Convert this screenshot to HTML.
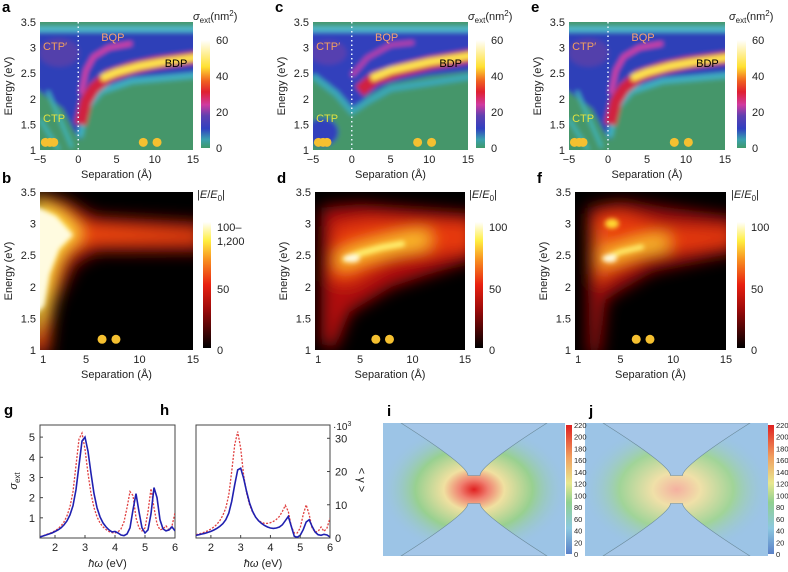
<!DOCTYPE html>
<html><head><meta charset="utf-8">
<style>
html,body{margin:0;padding:0;background:#fff;}
svg{display:block;font-family:"Liberation Sans",sans-serif;}
</style></head>
<body>
<svg id="fig" width="788" height="572" viewBox="0 0 788 572" xmlns="http://www.w3.org/2000/svg">
<defs>
<linearGradient id="cbTop" x1="0" y1="1" x2="0" y2="0">
<stop offset="0" stop-color="#3f9a6a"/><stop offset="0.08" stop-color="#3aa0b0"/><stop offset="0.18" stop-color="#3040c0"/><stop offset="0.3" stop-color="#6040b0"/><stop offset="0.4" stop-color="#d03aa0"/><stop offset="0.52" stop-color="#e02030"/><stop offset="0.62" stop-color="#f06020"/><stop offset="0.75" stop-color="#ffe030"/><stop offset="1" stop-color="#ffffff"/>
</linearGradient>
<linearGradient id="cbBot" x1="0" y1="1" x2="0" y2="0">
<stop offset="0" stop-color="#000"/><stop offset="0.3" stop-color="#9a0a0a"/><stop offset="0.5" stop-color="#e82010"/><stop offset="0.7" stop-color="#f89020"/><stop offset="0.85" stop-color="#ffee40"/><stop offset="1" stop-color="#fff"/>
</linearGradient>
<linearGradient id="cbJet" x1="0" y1="1" x2="0" y2="0">
<stop offset="0" stop-color="#5a80c8"/><stop offset="0.2" stop-color="#8cc8e0"/><stop offset="0.4" stop-color="#90d090"/><stop offset="0.55" stop-color="#e8e890"/><stop offset="0.75" stop-color="#f0a060"/><stop offset="1" stop-color="#e02020"/>
</linearGradient>
<radialGradient id="fieldI" cx="0.5" cy="0.5" r="0.5">
<stop offset="0" stop-color="#e02020"/><stop offset="0.15" stop-color="#f08070"/><stop offset="0.32" stop-color="#f0e0a0"/><stop offset="0.62" stop-color="#98d090"/><stop offset="1" stop-color="#9cc4e6" stop-opacity="0"/>
</radialGradient>
<radialGradient id="fieldJ" cx="0.5" cy="0.5" r="0.5">
<stop offset="0" stop-color="#f4b0a0"/><stop offset="0.25" stop-color="#f0e0a8"/><stop offset="0.6" stop-color="#a0d498"/><stop offset="1" stop-color="#9cc4e6" stop-opacity="0"/>
</radialGradient>
<filter id="b3" filterUnits="userSpaceOnUse" x="0" y="0" width="788" height="572"><feGaussianBlur stdDeviation="2.5"/></filter>
<filter id="b6" filterUnits="userSpaceOnUse" x="0" y="0" width="788" height="572"><feGaussianBlur stdDeviation="8"/></filter>
</defs>
</svg>
<script>
// ---- spectra data (panels g, h) ----
const specX=[1.5,1.6,1.7,1.8,1.9,2.0,2.1,2.2,2.3,2.4,2.5,2.6,2.7,2.8,2.9,3.0,3.1,3.2,3.3,3.4,3.5,3.6,3.7,3.8,3.9,4.0,4.1,4.2,4.3,4.4,4.5,4.6,4.7,4.8,4.9,5.0,5.1,5.2,5.3,5.4,5.5,5.6,5.7,5.8,5.9,6.0];
const gBlue=[0.05,0.1,0.15,0.2,0.25,0.32,0.4,0.5,0.65,0.85,1.15,1.6,2.4,3.6,4.8,5.0,4.3,3.2,2.2,1.5,1.05,0.75,0.55,0.4,0.3,0.32,0.25,0.15,0.12,0.2,0.5,1.4,2.2,1.3,0.5,0.25,0.4,1.2,2.5,2.0,0.9,0.45,0.35,0.4,0.55,0.35];
const gRed=[0.06,0.11,0.17,0.22,0.28,0.36,0.46,0.6,0.8,1.1,1.55,2.3,3.6,4.9,5.2,4.4,3.2,2.2,1.5,1.05,0.75,0.55,0.42,0.32,0.27,0.25,0.3,0.45,0.8,1.5,2.3,2.1,1.0,0.5,0.35,0.5,1.3,2.45,1.5,0.7,0.4,0.45,0.6,0.4,0.6,1.25];
const hBlue=[0.8,1,1.2,1.4,1.7,2,2.4,2.9,3.5,4.3,5.5,7.5,11,16,20.5,21,18,14,10.5,8,6.3,5.2,4.4,3.8,3.3,3,2.9,3,3.3,4,5.2,6.5,3.5,0.5,0.2,0.8,2.5,4.8,5.5,3.5,1.8,1,0.8,1.1,0.9,0.3];
const hRed=[1,1.2,1.5,1.8,2.2,2.7,3.3,4.1,5.2,6.8,9,13,20,28,32,27,19,13.5,10,7.8,6.3,5.3,4.7,4.4,4.4,4.6,5,5.6,6.5,8,9.8,8,3.5,1.5,1.5,3,7,10,7,3,1.8,2,3.3,2,3,6];
const gYTicks=[1,2,3,4,5];
const hYTicks=[0,10,20,30];
const specXTicks=[2,3,4,5,6];
const topYTicks=[1,1.5,2,2.5,3,3.5];
const topXTicks=[-5,0,5,10,15];
const botXTicks=[1,5,10,15];
const topCbLabels=[60,40,20,0];
const jetLabels=[220,200,180,160,140,120,100,80,60,40,20,0];

const NS="http://www.w3.org/2000/svg";
const svg=document.getElementById('fig');
function mk(tag,attrs,parent){const e=document.createElementNS(NS,tag);for(const k in attrs)e.setAttribute(k,attrs[k]);(parent||svg).appendChild(e);return e;}
function txt(x,y,s,size,anchor,parent,extra){const t=mk('text',Object.assign({x:x,y:y,'font-size':size||11,'text-anchor':anchor||'middle',fill:'#222'},extra||{}),parent);t.textContent=s;return t;}
function lin(d0,d1,r0,r1){return v=>r0+(v-d0)*(r1-r0)/(d1-d0);}
function pts(arr,X,Y){return arr.map(p=>X(p[0]).toFixed(1)+','+Y(p[1]).toFixed(1)).join(' ');}

// ---------- top row heatmaps ----------
function topPanel(letter,px0,px1,cbx,variant){
  const py0=22,py1=150;
  const g=mk('g',{});
  
  
  const X=lin(-5,15,px0,px1),Y=lin(1,3.5,py1,py0);
  const lab=txt(px0-38,12,letter,15,'start',g,{'font-weight':'bold',fill:'#000'});
  
  
  const cid='clip'+letter;
  const cp=mk('clipPath',{id:cid},g);mk('rect',{x:px0,y:py0,width:px1-px0,height:py1-py0},cp);
  const hm=mk('g',{'clip-path':'url(#'+cid+')'},g);
  
  
  mk('rect',{x:px0,y:py0,width:px1-px0,height:py1-py0,fill:'#45966a'},hm);
  const bl=mk('g',{filter:'url(#b3)'},hm);
  mk('rect',{x:px0-5,y:py0-5,width:px1-px0+10,height:py1-py0+10,fill:'#45966a'},bl);
  if(variant==='c'){
    mk('polygon',{points:pts([[-6,3.33],[16,3.33],[16,2.55],[10,2.45],[5,2.3],[2,2.05],[0.5,1.8],[-1,1.95],[-3,2.3],[-6,2.5]],X,Y),fill:'#3040bc'},bl);
    mk('ellipse',{cx:X(-3.8),cy:Y(1.35),rx:16,ry:14,fill:'#3040bc'},bl);
    mk('polyline',{points:pts([[-5,2.45],[-2,2.1],[0,1.75],[2,1.95],[5,2.2],[16,2.45]],X,Y),fill:'none',stroke:'#3aa8b8','stroke-width':6},bl);
    mk('polyline',{points:pts([[1,2.15],[3,2.4],[6,2.55],[10,2.7],[16,2.85]],X,Y),fill:'none',stroke:'#d02040','stroke-width':13},bl);
    mk('polyline',{points:pts([[2.5,2.4],[5,2.55],[10,2.72],[16,2.86]],X,Y),fill:'none',stroke:'#ffe850','stroke-width':7},bl);
    mk('polyline',{points:pts([[0,2.45],[2,2.8],[5,3.05],[8,3.1]],X,Y),fill:'none',stroke:'#c040a8','stroke-width':4},bl);
    mk('ellipse',{cx:X(-3),cy:Y(2.9),rx:18,ry:12,fill:'#7040a8',opacity:0.6},bl);
  } else {
    mk('polygon',{points:pts([[-6,3.33],[16,3.33],[16,2.45],[10,2.4],[5,2.3],[2,2.1],[1,1.75],[0.3,1.2],[-0.5,1.35],[-2,1.8],[-6,2.25]],X,Y),fill:'#2f3fb8'},bl);
    mk('line',{x1:X(-5),y1:Y(1.6),x2:X(-2.5),y2:Y(1.0),stroke:'#40b8c0','stroke-width':3},bl);
    mk('line',{x1:X(-4),y1:Y(2.15),x2:X(-0.8),y2:Y(1.05),stroke:'#40b8c0','stroke-width':3},bl);
    mk('ellipse',{cx:X(-2.5),cy:Y(2.9),rx:20,ry:14,fill:'#7040a0',opacity:0.55},bl);
    mk('polyline',{points:pts([[0.2,1.25],[1,1.8],[3,2.15],[7,2.35],[16,2.47]],X,Y),fill:'none',stroke:'#40b0c0','stroke-width':6},bl);
    mk('polyline',{points:pts([[0.3,1.5],[1,1.95],[2,2.2],[4,2.45],[7,2.6],[10,2.7],[16,2.82]],X,Y),fill:'none',stroke:'#d02040','stroke-width':12},bl);
    mk('polyline',{points:pts([[3,2.4],[5,2.52],[8,2.64],[11,2.72],[16,2.82]],X,Y),fill:'none',stroke:'#ffe850','stroke-width':7},bl);
    mk('polyline',{points:pts([[0.4,2.1],[1,2.55],[2,2.82],[4,3.0],[7,3.08]],X,Y),fill:'none',stroke:'#e040a0','stroke-width':4},bl);
  }
  mk('rect',{x:px0-5,y:Y(3.42),width:px1-px0+10,height:Y(3.3)-Y(3.42),fill:'#50b8c8'},bl);
  mk('rect',{x:px0-5,y:py0-5,width:px1-px0+10,height:Y(3.43)-py0+5,fill:'#45966a'},bl);
  mk('line',{x1:X(0),y1:py0,x2:X(0),y2:py1,stroke:'#e8f4ff','stroke-width':1.5,'stroke-dasharray':'1.5,3'},hm);
  [[8.5],[10.3]].forEach(p=>{const c=mk('circle',{cx:X(p[0]),cy:Y(1.15),r:4.5,fill:'#f5c030'},hm);
    
    });
  [-4.3,-3.7,-3.2].forEach(v=>{const c=mk('circle',{cx:X(v),cy:Y(1.15),r:4.5,fill:'#f5c030'},hm);
    
    });
  const ml=[['CTP\u2032',-4.6,2.95,'#f0a060'],['BQP',3,3.13,'#f8a070'],['BDP',11.3,2.62,'#000'],['CTP',-4.6,1.55,'#e0e040']];
  ml.forEach(m=>{const t=txt(X(m[1]),Y(m[2]),m[0],11,'start',g,{fill:m[3]});
    
    });
  topYTicks.forEach(v=>{const t=txt(px0-4,Y(v)+4,String(v),11,'end',g);
    
    });
  topXTicks.forEach(v=>{const t=txt(X(v),py1+13,v<0?'\u2212'+(-v):String(v),11,'middle',g);
    
    });
  const xl=txt((px0+px1)/2,py1+28,'Separation (\u00c5)',11,'middle',g);
  
  
  const yl=txt(0,0,'Energy (eV)',11,'middle',g,{transform:'translate('+(px0-28)+','+((py0+py1)/2)+') rotate(-90)'});
  
  
  const cb=mk('rect',{x:cbx,y:40,width:9,height:108,fill:'url(#cbTop)'},g);
  
  
  const CY=lin(0,60,148,40);
  topCbLabels.forEach(v=>{const t=txt(cbx+15,CY(v)+4,String(v),11,'start',g);
    
    });
  const ct=txt(cbx-8,20,'',11,'start',g);
  ct.innerHTML='<tspan font-style="italic">\u03c3</tspan><tspan font-size="8" dy="3">ext</tspan><tspan dy="-3">(nm</tspan><tspan font-size="8" dy="-4">2</tspan><tspan dy="4">)</tspan>';
  
  
}
topPanel('a',40,193,201,'a');
topPanel('c',313,468,476,'c');
topPanel('e',569,725,737,'e');

// ---------- middle row field enhancement ----------
function botPanel(letter,px0,px1,cbx,variant){
  const py0=192,py1=350;
  const g=mk('g',{});
  
  
  const X=lin(0.7,15,px0,px1),Y=lin(1,3.5,py1,py0);
  const lab=txt(px0-38,183,letter,15,'start',g,{'font-weight':'bold',fill:'#000'});
  
  
  const cid='clip'+letter;
  const cp=mk('clipPath',{id:cid},g);mk('rect',{x:px0,y:py0,width:px1-px0,height:py1-py0},cp);
  const hm=mk('g',{'clip-path':'url(#'+cid+')'},g);
  
  
  mk('rect',{x:px0,y:py0,width:px1-px0,height:py1-py0,fill:'#000'},hm);
  const bl=mk('g',{filter:'url(#b6)'},hm);
  const bs=mk('g',{filter:'url(#b3)'},hm);
  if(variant==='b'){
    mk('polygon',{points:pts([[0,0.9],[0,3.5],[3,3.38],[6,3.12],[16,3.02],[16,2.55],[6,2.55],[4,2.35],[2,1.7],[1.5,0.9]],X,Y),fill:'#a01010'},bl);
    mk('polygon',{points:pts([[0,1.0],[0,3.42],[3,3.27],[5,2.98],[16,2.87],[16,2.72],[5,2.68],[3,2.48],[1.7,1.75],[1.2,1.0]],X,Y),fill:'#f04a10'},bl);
    mk('polygon',{points:pts([[0,1.2],[0,3.38],[2.5,3.2],[4.6,2.83],[3,2.62],[2,2.3],[1.3,1.6]],X,Y),fill:'#ffe040'},bl);
    mk('polygon',{points:pts([[0,1.5],[0,3.3],[2.2,3.12],[3.8,2.82],[2.5,2.6],[1.6,2.2],[1.1,1.7]],X,Y),fill:'#fffbe0'},bs);
  } else if(variant==='d'){
    mk('polygon',{points:pts([[1.3,1.1],[1.3,3.25],[5,3.3],[16,3.15],[16,2.45],[8,2.0],[4,1.6],[2.5,1.0]],X,Y),fill:'#b01010'},bl);
    mk('polygon',{points:pts([[2.0,2.1],[2.6,2.95],[6,3.05],[16,3.0],[16,2.6],[8,2.45],[4,2.05]],X,Y),fill:'#e83a10'},bl);
    mk('polyline',{points:pts([[3.4,2.42],[5,2.53],[7,2.62],[9,2.7],[11,2.75]],X,Y),fill:'none',stroke:'#ffd030','stroke-width':14,'stroke-linecap':'round'},bl);
    mk('polyline',{points:pts([[3.6,2.44],[5,2.53],[7,2.62],[9,2.68]],X,Y),fill:'none',stroke:'#fff070','stroke-width':6,'stroke-linecap':'round'},bs);
    mk('ellipse',{cx:X(4.2),cy:Y(2.45),rx:8,ry:4,fill:'#fffbe0'},bs);
  } else {
    mk('polygon',{points:pts([[2.0,0.9],[1.9,3.25],[5,3.35],[16,3.1],[16,2.55],[8,2.25],[3.6,1.8],[3,0.9]],X,Y),fill:'#a01010'},bl);
    mk('polygon',{points:pts([[2.6,2.0],[2.5,3.15],[5,3.2],[9,2.95],[16,2.9],[16,2.68],[8,2.52],[4,2.2]],X,Y),fill:'#e83a10'},bl);
    mk('polyline',{points:pts([[3.3,2.45],[5,2.55],[7,2.65],[9,2.7]],X,Y),fill:'none',stroke:'#ffd030','stroke-width':12,'stroke-linecap':'round'},bl);
    mk('polyline',{points:pts([[3.5,2.45],[5,2.55],[7,2.63]],X,Y),fill:'none',stroke:'#fff070','stroke-width':5,'stroke-linecap':'round'},bs);
    mk('ellipse',{cx:X(4.2),cy:Y(3.0),rx:7,ry:5,fill:'#ffd830'},bs);
    mk('ellipse',{cx:X(4),cy:Y(2.45),rx:7,ry:4,fill:'#fffbe0'},bs);
    mk('line',{x1:X(3.1),y1:Y(2.9),x2:X(3.1),y2:Y(2.2),stroke:'#f08020','stroke-width':5},bl);
  }
  [6.5,7.8].forEach(v=>{const c=mk('circle',{cx:X(v),cy:Y(1.17),r:4.5,fill:'#f5c030'},hm);
    
    });
  topYTicks.forEach(v=>{const t=txt(px0-4,Y(v)+4,String(v),11,'end',g);
    
    });
  botXTicks.forEach(v=>{const t=txt(X(v),py1+13,String(v),11,'middle',g);
    
    });
  const xl=txt((px0+px1)/2,py1+28,'Separation (\u00c5)',11,'middle',g);
  
  
  const yl=txt(0,0,'Energy (eV)',11,'middle',g,{transform:'translate('+(px0-28)+','+((py0+py1)/2)+') rotate(-90)'});
  
  
  const cb=mk('rect',{x:cbx,y:222,width:8,height:126,fill:'url(#cbBot)'},g);
  
  
  const labs=variant==='b'?[['100\u2013',227],['1,200',241],['50',289],['0',350]]:[['100',227],['50',289],['0',350]];
  labs.forEach(l=>{const t=txt(cbx+14,l[1]+4,l[0],11,'start',g);
    
    });
  const ct=txt(cbx-6,198,'',11,'start',g);
  ct.innerHTML='|<tspan font-style="italic">E</tspan>/<tspan font-style="italic">E</tspan><tspan font-size="8" dy="3">0</tspan><tspan dy="-3">|</tspan>';
  
  
}
botPanel('b',40,193,203,'b');
botPanel('d',315,465,475,'d');
botPanel('f',575,726,737,'f');

// ---------- spectra g, h ----------
function specPanel(letter,px0,px1,ymax,blue,red,yTicks,rightAxis){
  const py0=425,py1=538;
  const g=mk('g',{});
  
  
  const X=lin(1.5,6,px0,px1),Y=lin(0,ymax,py1,py0);
  const lab=txt(px0-36,415,letter,15,'start',g,{'font-weight':'bold',fill:'#000'});
  
  
  const fr=mk('rect',{x:px0,y:py0,width:px1-px0,height:py1-py0,fill:'none',stroke:'#444','stroke-width':1},g);
  
  
  const cid='clip'+letter;
  const cp=mk('clipPath',{id:cid},g);mk('rect',{x:px0,y:py0,width:px1-px0,height:py1-py0},cp);
  const lg=mk('g',{'clip-path':'url(#'+cid+')'},g);
  const rl=mk('polyline',{points:specX.map((x,i)=>X(x).toFixed(1)+','+Y(red[i]).toFixed(1)).join(' '),fill:'none',stroke:'#e04040','stroke-width':1.3,'stroke-dasharray':'2,1.5'},lg);
  
  
  const bl=mk('polyline',{points:specX.map((x,i)=>X(x).toFixed(1)+','+Y(blue[i]).toFixed(1)).join(' '),fill:'none',stroke:'#2020b0','stroke-width':1.6},lg);
  
  
  specXTicks.forEach(v=>{mk('line',{x1:X(v),y1:py1,x2:X(v),y2:py1-3,stroke:'#444'},g);
    const t=txt(X(v),py1+13,String(v),11,'middle',g);
    
    });
  yTicks.forEach(v=>{const ax=rightAxis?px1:px0;
    mk('line',{x1:ax,y1:Y(v),x2:rightAxis?ax-3:ax+3,y2:Y(v),stroke:'#444'},g);
    const t=txt(rightAxis?px1+5:px0-5,Y(v)+4,String(v),11,rightAxis?'start':'end',g);
    
    });
  const xl=txt((px0+px1)/2,py1+29,'',11,'middle',g);
  xl.innerHTML='<tspan font-style="italic">\u0127\u03c9</tspan> (eV)';
  
  
}
specPanel('g',40,175,5.6,gBlue,gRed,gYTicks,false);
specPanel('h',196,330,34,hBlue,hRed,hYTicks,true);
const gy=txt(0,0,'',11,'middle',null,{transform:'translate(17,481) rotate(-90)'});
gy.innerHTML='<tspan font-style="italic">\u03c3</tspan><tspan font-size="8" dy="3">ext</tspan>';


const hy=txt(0,0,'< \u03b3 >',11,'middle',null,{transform:'translate(358,480) rotate(90)'});


const hm10=txt(333,430,'',10,'start');
hm10.innerHTML='\u00b710<tspan font-size="7" dy="-4">3</tspan>';



// ---------- field maps i, j ----------
function fieldPanel(letter,x0,x1,grad,cbx){
  const y0=423,y1=556;
  const g=mk('g',{});
  
  
  const lab=txt(x0+4,416,letter,15,'start',g,{'font-weight':'bold',fill:'#000'});
  
  
  const cx=(x0+x1)/2,cy=(y0+y1)/2;
  const cid='clip'+letter;
  const cp=mk('clipPath',{id:cid},g);mk('rect',{x:x0,y:y0,width:x1-x0,height:y1-y0},cp);
  const m=mk('g',{'clip-path':'url(#'+cid+')'},g);
  
  
  mk('rect',{x:x0,y:y0,width:x1-x0,height:y1-y0,fill:'#9cc4e6'},m);
  mk('ellipse',{cx:cx,cy:cy,rx:(x1-x0)*0.52,ry:(y1-y0)*0.5,fill:'url(#'+grad+')'},m);
  const top=mk('path',{d:'M'+(x0+18)+','+y0+' Q'+(cx-6)+','+(cy-24)+' '+(cx-6)+','+(cy-14)+' L'+(cx+6)+','+(cy-14)+' Q'+(cx+6)+','+(cy-24)+' '+(x1-18)+','+y0+' Z',fill:'#a4c6e8',stroke:'#6a8a9a','stroke-width':0.6},m);
  
  
  const bot=mk('path',{d:'M'+(x0+18)+','+y1+' Q'+(cx-6)+','+(cy+24)+' '+(cx-6)+','+(cy+14)+' L'+(cx+6)+','+(cy+14)+' Q'+(cx+6)+','+(cy+24)+' '+(x1-18)+','+y1+' Z',fill:'#a4c6e8',stroke:'#6a8a9a','stroke-width':0.6},m);
  
  
  const cb=mk('rect',{x:cbx,y:y0+2,width:6,height:y1-y0-4,fill:'url(#cbJet)'},g);
  
  
  const CY=lin(0,220,y1-2,y0+2);
  jetLabels.forEach(v=>{const t=txt(cbx+8,CY(v)+3,String(v),7.5,'start',g);
    
    });
}
fieldPanel('j',585,768,'fieldJ',768);
fieldPanel('i',383,565,'fieldI',566);
</script>
</body></html>
